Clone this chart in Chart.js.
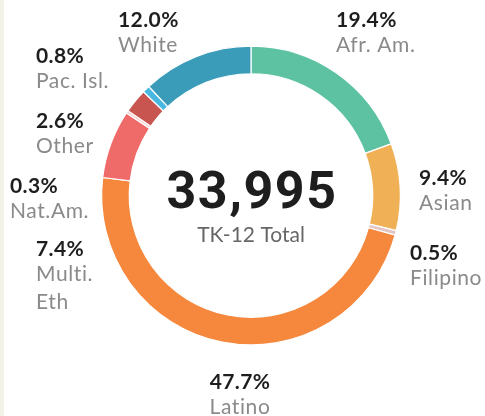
<!DOCTYPE html>
<html><head><meta charset="utf-8">
<script src="https://cdn.jsdelivr.net/npm/chart.js@4"></script>
<style>
html,body{margin:0;padding:0;background:#fff;}
body{width:485px;height:416px;overflow:hidden;position:relative;}
#strip{position:absolute;left:0;top:0;width:4px;height:416px;background:#f2f2e8;}
#wrap{position:absolute;left:0;top:0;width:485px;height:416px;}
</style></head>
<body><div id="strip"></div><div id="wrap"><canvas id="c" width="485" height="416"></canvas></div>
<script>
const categories = ["Afr. Am.", "Asian", "Filipino", "Latino", "Multi.\nEth", "Nat.Am.", "Other", "Pac. Isl.", "White"];
const values = [19.4, 9.4, 0.5, 47.7, 7.4, 0.3, 2.6, 0.8, 12.0];
const pctLabels = ["19.4%", "9.4%", "0.5%", "47.7%", "7.4%", "0.3%", "2.6%", "0.8%", "12.0%"];
const colors = ["#5cc2a1", "#f0b156", "#e3c6c4", "#f5883c", "#ee6b69", "#f6d3d2", "#c8554f", "#48b8e0", "#3a9cb9"];
const totalText = "33,995";
const totalLabel = "TK-12 Total";
// label layout: [x, y of percent-line middle, align]
const labelLayout = [[336,19,"left"],[419,177,"left"],[410,252,"left"],[240,381,"center"],[36,248,"left"],[10,185,"left"],[36,120,"left"],[36,55,"left"],[118,19,"left"]];

const labelsPlugin = {
  id: 'labelsPlugin',
  afterDraw(chart) {
    const ctx = chart.ctx;
    ctx.save();
    const meta = chart.getDatasetMeta(0);
    const arc = meta.data[0];
    const cx = arc.x, cy = arc.y;
    ctx.textBaseline = 'alphabetic';
    categories.forEach((cat, i) => {
      const [x, y, al] = labelLayout[i];
      ctx.textAlign = al;
      ctx.fillStyle = '#1e1e1e';
      ctx.font = 'bold 21px Lato';
      ctx.letterSpacing = '0.4px';
      ctx.fillText(pctLabels[i], x, y + 7.5);
      ctx.fillStyle = '#8a8a8a';
      ctx.font = '21px Lato';
      ctx.letterSpacing = '0.6px';
      cat.split('\n').forEach((ln, k) => {
        ctx.fillText(ln, x, y + 32.5 + k * 28);
      });
    });
    ctx.textAlign = 'center';
    ctx.fillStyle = '#1e1e1e';
    ctx.font = 'bold 52px Roboto';
    ctx.letterSpacing = '1.5px';
    ctx.fillText(totalText, cx + 1, 208);
    ctx.letterSpacing = '0px';
    ctx.fillStyle = '#666';
    ctx.font = '21px Lato';
    ctx.fillText(totalLabel, cx, 242);
    ctx.restore();
  }
};

new Chart(document.getElementById('c'), {
  type: 'doughnut',
  data: {
    labels: categories,
    datasets: [{
      data: values,
      backgroundColor: colors,
      borderColor: '#ffffff',
      borderWidth: 1.2,
      hoverOffset: 0
    }]
  },
  options: {
    responsive: false,
    animation: false,
    cutout: '81.5%',
    layout: { padding: { left: 101, right: 84, top: 45, bottom: 70 } },
    plugins: { legend: { display: false }, tooltip: { enabled: false } }
  },
  plugins: [labelsPlugin]
});
</script></body></html>
